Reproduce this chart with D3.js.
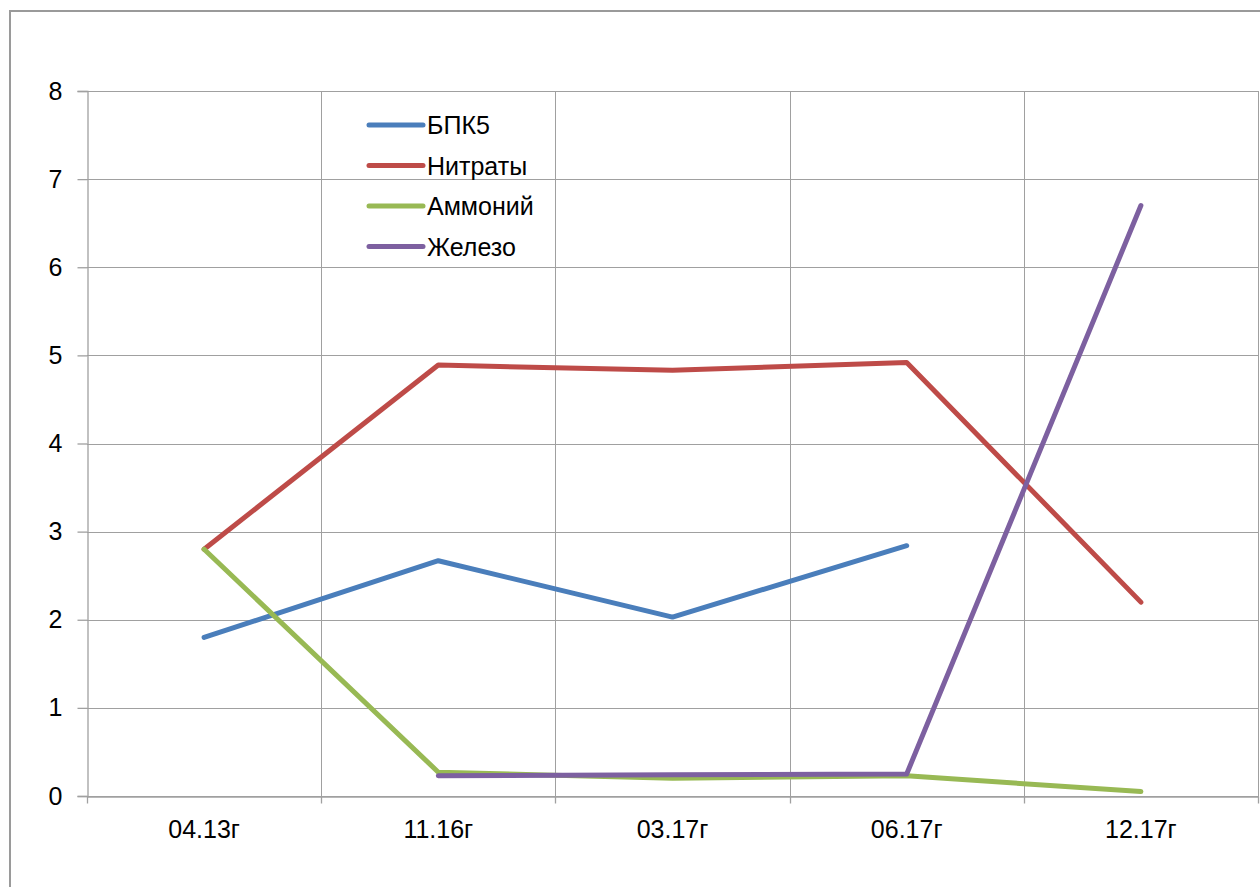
<!DOCTYPE html>
<html>
<head>
<meta charset="utf-8">
<script src="https://cdn.jsdelivr.net/npm/d3@7"></script>
<style>
  html, body { margin: 0; padding: 0; background: #fff; }
  svg { display: block; font-family: "Liberation Sans", Arial, sans-serif; }
</style>
</head>
<body>
<svg id="chart" width="1260" height="887"></svg>
<script>
// Sampling dates
const categories = ["04.13г", "11.16г", "03.17г", "06.17г", "12.17г"];

// Measured values per date (null = no measurement)
const bpk5     = [1.8, 2.67, 2.03, 2.84, null];
const nitrates = [2.8, 4.89, 4.83, 4.92, 2.2];
const ammonium = [2.8, 0.27, 0.2, 0.23, 0.05];
const iron     = [null, 0.23, 0.24, 0.25, 6.7];

const yTicks = [0, 1, 2, 3, 4, 5, 6, 7, 8];

const seriesNames  = ["БПК5", "Нитраты", "Аммоний", "Железо"];
const seriesValues = [bpk5, nitrates, ammonium, iron];
const seriesColors = ["#4A7EBB", "#BE4B48", "#98B954", "#7D60A0"];

const FONT = "'Liberation Sans', Arial, sans-serif";
const FONT_SIZE = 25;

const svg = d3.select("#chart");

// Outer chart frame
svg.append("rect")
  .attr("x", 10).attr("y", 11)
  .attr("width", 1270).attr("height", 900)
  .attr("fill", "none").attr("stroke", "#9a9a9a").attr("stroke-width", 2);

const plot = { left: 87, top: 91, right: 1258, bottom: 796 };

const x = d3.scaleBand()
  .domain(categories)
  .range([plot.left, plot.right])
  .paddingInner(0).paddingOuter(0);

const y = d3.scaleLinear().domain([0, 8]).range([plot.bottom, plot.top]);

const grid = svg.append("g").attr("stroke", "#a0a0a0").attr("stroke-width", 1.3).attr("shape-rendering", "crispEdges");

// Horizontal gridlines
grid.selectAll("line.h").data(yTicks).join("line")
  .attr("class", "h")
  .attr("x1", plot.left).attr("x2", plot.right)
  .attr("y1", d => Math.round(y(d)) + 0.5).attr("y2", d => Math.round(y(d)) + 0.5);

// Vertical gridlines at category boundaries
const bounds = categories.map(c => x(c)).concat([plot.right]);
grid.selectAll("line.v").data(bounds.slice(1)).join("line")
  .attr("class", "v")
  .attr("x1", d => Math.round(d) + 0.5).attr("x2", d => Math.round(d) + 0.5)
  .attr("y1", plot.top).attr("y2", plot.bottom + 7);

// Y axis
const yAxis = d3.axisLeft(y).tickValues(yTicks).tickSize(10).tickPadding(15).tickFormat(d3.format("d"));
const gy = svg.append("g").attr("transform", `translate(${plot.left + 0.5},0)`).call(yAxis);
gy.select(".domain").attr("stroke", "#a0a0a0").attr("stroke-width", 1.3);
gy.selectAll(".tick line").attr("stroke", "#a0a0a0").attr("stroke-width", 1.3);
gy.selectAll(".tick text").attr("font-size", FONT_SIZE).attr("fill", "#000").attr("font-family", FONT);

// X axis
const xAxis = d3.axisBottom(x).tickSize(0).tickPadding(24);
const gx = svg.append("g").attr("transform", `translate(0,${plot.bottom + 0.5})`).call(xAxis);
gx.select(".domain").attr("stroke", "#a0a0a0").attr("stroke-width", 1.3);
gx.selectAll(".tick text").attr("font-size", FONT_SIZE).attr("fill", "#000").attr("font-family", FONT);
// Boundary tick marks
gx.selectAll("line.b").data(bounds).join("line")
  .attr("class", "b")
  .attr("x1", 0).attr("x2", 0)
  .attr("transform", d => `translate(${Math.round(d) + 0.5},0)`)
  .attr("y1", 0).attr("y2", 7)
  .attr("stroke", "#a0a0a0").attr("stroke-width", 1.3);

// Data lines
const cx = c => x(c) + x.bandwidth() / 2;
const line = d3.line()
  .defined(d => d.v !== null)
  .x(d => cx(d.c))
  .y(d => y(d.v));

seriesValues.forEach((vals, i) => {
  const pts = categories.map((c, j) => ({ c, v: vals[j] }));
  svg.append("path")
    .datum(pts)
    .attr("d", line)
    .attr("fill", "none")
    .attr("stroke", seriesColors[i])
    .attr("stroke-width", 5)
    .attr("stroke-linejoin", "round")
    .attr("stroke-linecap", "round");
});

// Legend
const legend = svg.append("g").attr("transform", "translate(369,125)");
seriesNames.forEach((name, i) => {
  const g = legend.append("g").attr("transform", `translate(0,${i * 40.5})`);
  g.append("line")
    .attr("x1", 0).attr("x2", 54).attr("y1", 0).attr("y2", 0)
    .attr("stroke", seriesColors[i]).attr("stroke-width", 5).attr("stroke-linecap", "round");
  g.append("text")
    .attr("x", 58).attr("y", 0).attr("dy", "0.36em")
    .attr("font-size", FONT_SIZE).attr("fill", "#000").attr("font-family", FONT)
    .text(name);
});
</script>
</body>
</html>
